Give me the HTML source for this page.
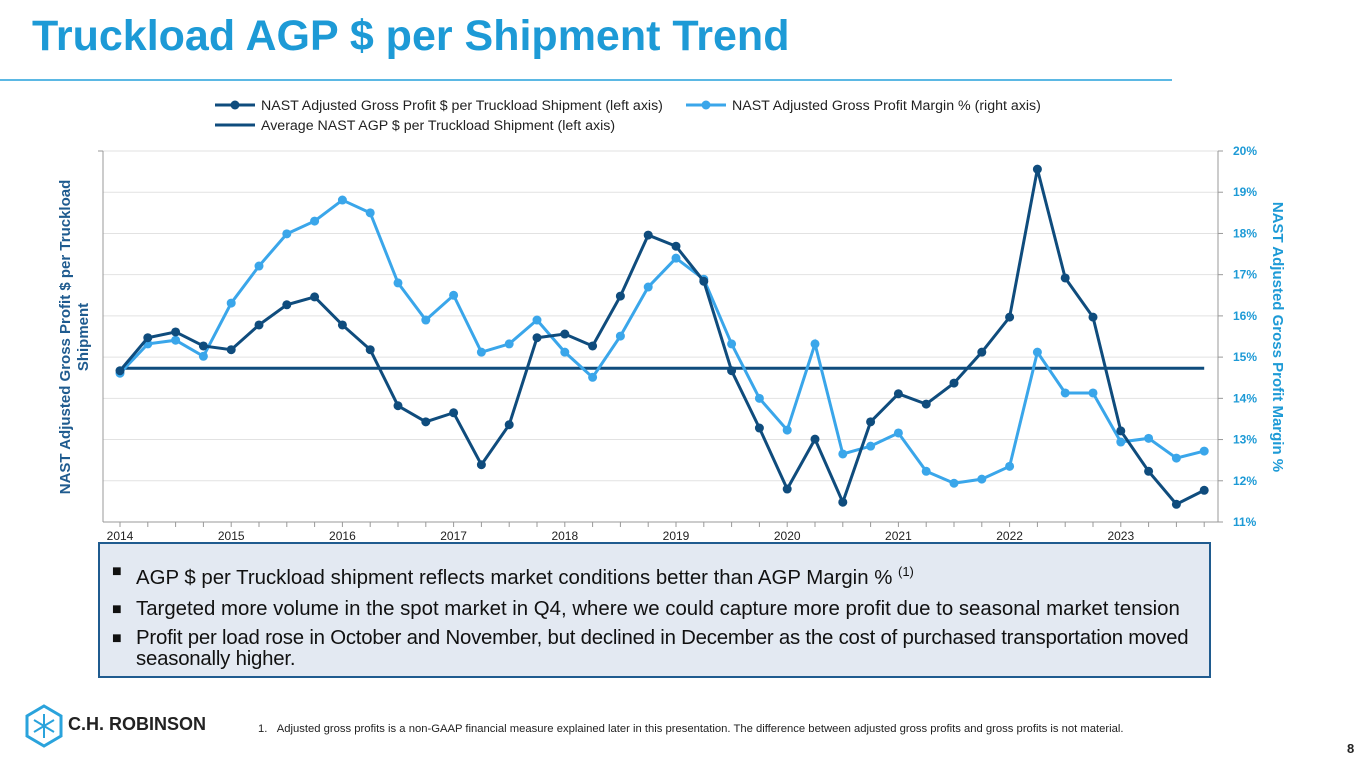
<!DOCTYPE html>
<html><head><meta charset="utf-8"><style>
body{margin:0;width:1365px;height:768px;background:#fff;font-family:"Liberation Sans",Arial,sans-serif;overflow:hidden;position:relative}
#title{position:absolute;left:32px;top:12px;font-size:43px;font-weight:bold;color:#1d9ad6;margin:0}
#rule{position:absolute;left:0;top:79px;width:1172px;height:2px;background:#5bb8e4}
#box{position:absolute;left:98px;top:542px;width:1113px;height:136px;background:#e3e9f2;border:2px solid #1f5b8f;box-sizing:border-box}
.b{position:absolute;left:36px;font-size:20.4px;color:#111;line-height:21px;white-space:nowrap}
.b .sq{position:absolute;left:-24px;top:0;font-size:16px}
#foot{position:absolute;left:258px;top:723px;font-size:11.25px;color:#222}
#pg{position:absolute;left:1347px;top:741px;font-size:13px;font-weight:bold;color:#222}
</style></head><body>
<h1 id="title">Truckload AGP $ per Shipment Trend</h1>
<div id="rule"></div>
<svg id="chart" width="1365" height="540" style="position:absolute;left:0;top:0"></svg>
<div id="box">
<div class="b" style="top:17px"><span class="sq">■</span>AGP $ per Truckload shipment reflects market conditions better than AGP Margin % <sup style="font-size:13px">(1)</sup></div>
<div class="b" style="top:55px"><span class="sq">■</span>Targeted more volume in the spot market in Q4, where we could capture more profit due to seasonal market tension</div>
<div class="b" style="top:84px;letter-spacing:-0.22px"><span class="sq">■</span>Profit per load rose in October and November, but declined in December as the cost of purchased transportation moved<br>seasonally higher.</div>
</div>
<svg style="position:absolute;left:24px;top:704px" width="40" height="44" viewBox="0 0 40 44">
<polygon points="20,2 37,12 37,32 20,42 3,32 3,12" fill="none" stroke="#2aa3dc" stroke-width="3"/>
<path d="M20 10V34M10 16L30 28M30 16L10 28" stroke="#2aa3dc" stroke-width="2"/></svg>
<div style="position:absolute;left:68px;top:714px;font-size:18px;font-weight:bold;color:#222">C.H. ROBINSON</div>
<div id="foot">1.&nbsp;&nbsp;&nbsp;Adjusted gross profits is a non-GAAP financial measure explained later in this presentation. The difference between adjusted gross profits and gross profits is not material.</div>
<div id="pg">8</div>
<script>
const years=["2014","2015","2016","2017","2018","2019","2020","2021","2022","2023"];
const rightTicks=[11,12,13,14,15,16,17,18,19,20];
const marginPct=[14.61,15.32,15.41,15.02,16.31,17.21,17.99,18.30,18.81,18.50,16.80,15.90,16.50,15.12,15.32,15.90,15.12,14.51,15.51,16.70,17.40,16.89,15.32,14.0,13.23,15.32,12.65,12.84,13.16,12.23,11.94,12.04,12.35,15.12,14.13,14.13,12.94,13.03,12.55,12.72];
const agpIdx=[14.67,15.47,15.61,15.27,15.18,15.78,16.27,16.46,15.78,15.18,13.82,13.43,13.65,12.39,13.36,15.47,15.56,15.27,16.48,17.96,17.69,16.84,14.67,13.28,11.80,13.01,11.48,13.43,14.11,13.86,14.37,15.12,15.97,19.56,16.92,15.97,13.21,12.23,11.43,11.77];
const avgAgp=14.73;
const svg=document.getElementById('chart');const NS='http://www.w3.org/2000/svg';
const X0=103,X1=1218,Y0=522,Y1=151,QX0=120,QW=27.8;
const x=i=>QX0+i*QW;const y=v=>Y0-(v-11)/9*(Y0-Y1);
function mk(t,a,p){const e=document.createElementNS(NS,t);for(const k in a)e.setAttribute(k,a[k]);(p||svg).appendChild(e);return e;}
rightTicks.forEach((t,i)=>{
 const g=mk('line',{x1:X0,x2:X1,y1:y(t),y2:y(t),stroke:'#e2e2e2','stroke-width':1});
 
 
 mk('line',{x1:X1,x2:X1+5,y1:y(t),y2:y(t),stroke:'#999'});
 const l=mk('text',{x:X1+15,y:y(t)+4,'font-size':12,'font-weight':'bold',fill:'#1d9ad6'});l.textContent=t+'%';
 
 
});
mk('line',{x1:X0-5,x2:X0,y1:Y1,y2:Y1,stroke:'#999'});
mk('line',{x1:X0,x2:X0,y1:Y1,y2:Y0,stroke:'#999'});
mk('line',{x1:X1,x2:X1,y1:Y1,y2:Y0,stroke:'#999'});
mk('line',{x1:X0,x2:X1,y1:Y0,y2:Y0,stroke:'#999'});
for(let i=0;i<40;i++)mk('line',{x1:x(i),x2:x(i),y1:Y0,y2:Y0+5,stroke:'#999'});
years.forEach((yr,i)=>{const t=mk('text',{x:x(i*4),y:Y0+18,'font-size':12,fill:'#222','text-anchor':'middle'});t.textContent=yr;
 
 });
const yl=mk('text',{transform:'translate(78,337) rotate(-90)','font-size':15,'font-weight':'bold',fill:'#1f5b8f','text-anchor':'middle'});


mk('tspan',{x:0,dy:-8},yl).textContent='NAST Adjusted Gross Profit $ per Truckload';
mk('tspan',{x:0,dy:18},yl).textContent='Shipment';
const yr=mk('text',{transform:'translate(1273,337) rotate(90)','font-size':15,'font-weight':'bold',fill:'#1d9ad6','text-anchor':'middle'});yr.textContent='NAST Adjusted Gross Profit Margin %';


const avg=mk('line',{x1:x(0),x2:x(39),y1:y(avgAgp),y2:y(avgAgp),stroke:'#0f4c7d','stroke-width':3});


function series(vals,col,name){
 const p=mk('polyline',{points:vals.map((v,i)=>x(i)+','+y(v)).join(' '),fill:'none',stroke:col,'stroke-width':3});
 
 
 vals.forEach((v,i)=>{const c=mk('circle',{cx:x(i),cy:y(v),r:4.5,fill:col});
  
  });
}
series(marginPct,'#3aa6ea','margin');
series(agpIdx,'#0f4c7d','agp');
function leg(x0,yy,col,dot,txt,nm){mk('line',{x1:x0,x2:x0+40,y1:yy,y2:yy,stroke:col,'stroke-width':3});
 if(dot)mk('circle',{cx:x0+20,cy:yy,r:4.5,fill:col});
 const t=mk('text',{x:x0+46,y:yy+5,'font-size':14.2,fill:'#222'});t.textContent=txt;
 
 }
leg(215,105,'#0f4c7d',true,'NAST Adjusted Gross Profit $ per Truckload Shipment (left axis)','legend-agp');
leg(686,105,'#3aa6ea',true,'NAST Adjusted Gross Profit Margin % (right axis)','legend-margin');
leg(215,125,'#0f4c7d',false,'Average NAST AGP $ per Truckload Shipment (left axis)','legend-average');
</script>
</body></html>
